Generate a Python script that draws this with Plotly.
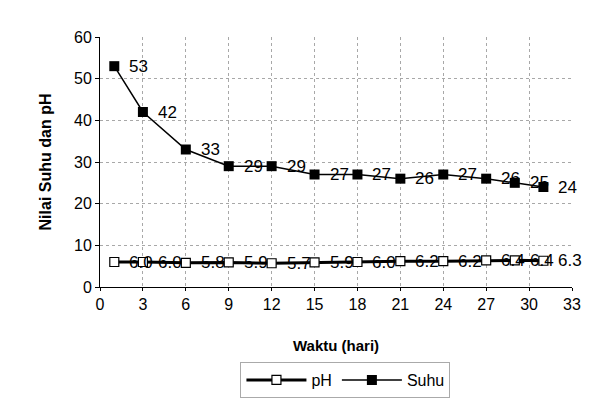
import plotly.graph_objects as go

# Observation days
hari = [1, 3, 6, 9, 12, 15, 18, 21, 24, 27, 29, 31]
# Temperature (Suhu) and pH readings per day
suhu = [53, 42, 33, 29, 29, 27, 27, 26, 27, 26, 25, 24]
ph = [6.0, 6.0, 5.8, 5.9, 5.7, 5.9, 6.0, 6.2, 6.2, 6.4, 6.4, 6.3]

x_ticks = list(range(0, 34, 3))
y_ticks = list(range(0, 61, 10))

font_family = "Liberation Sans, Arial, sans-serif"
label_font = dict(family=font_family, size=17, color="black")

fig = go.Figure()

fig.add_trace(go.Scatter(
    x=hari, y=ph, name="pH",
    mode="lines+markers",
    line=dict(color="black", width=3),
    marker=dict(symbol="square", size=9, color="white",
                line=dict(color="black", width=1.2)),
))

fig.add_trace(go.Scatter(
    x=hari, y=suhu, name="Suhu",
    mode="lines+markers",
    line=dict(color="black", width=1.5),
    marker=dict(symbol="square", size=10, color="black"),
))

# Value labels placed to the right of each point
annotations = []
for xv, yv in zip(hari, ph):
    annotations.append(dict(x=xv, y=yv, xref="x", yref="y", text=f"{yv:.1f}",
                            showarrow=False, xanchor="left", yanchor="middle",
                            xshift=13, font=label_font))
for xv, yv in zip(hari, suhu):
    annotations.append(dict(x=xv, y=yv, xref="x", yref="y", text=str(yv),
                            showarrow=False, xanchor="left", yanchor="middle",
                            xshift=13, font=label_font))

grid = dict(showgrid=True, gridcolor="#a8a8a8", gridwidth=1, griddash="dot")

fig.update_layout(
    width=593, height=410,
    margin=dict(l=100, r=17, t=37, b=122),
    paper_bgcolor="white", plot_bgcolor="white",
    font=dict(family=font_family, size=16, color="black"),
    showlegend=True,
    annotations=annotations,
    legend=dict(
        orientation="h", x=0.52, xanchor="center", y=-0.30, yanchor="top",
        bordercolor="#aaaaaa", borderwidth=1,
        font=dict(family=font_family, size=16, color="black"),
        itemwidth=60,
    ),
    xaxis=dict(
        range=[0, 33], tickvals=x_ticks, ticktext=[str(t) for t in x_ticks],
        showline=True, linecolor="black", linewidth=1,
        ticks="outside", ticklen=3, tickcolor="black",
        zeroline=False,
        tickfont=dict(size=16),
        title=dict(text="<b>Waktu (hari)</b>", font=dict(size=15), standoff=28),
        **grid,
    ),
    yaxis=dict(
        range=[0, 60], tickvals=y_ticks,
        showline=True, linecolor="black", linewidth=1,
        ticks="outside", ticklen=4, tickcolor="black",
        zeroline=False,
        tickfont=dict(size=16),
        title=dict(text="<b>Nilai Suhu dan pH</b>", font=dict(size=16), standoff=18),
        **grid,
    ),
)

fig.write_html("out.html")
